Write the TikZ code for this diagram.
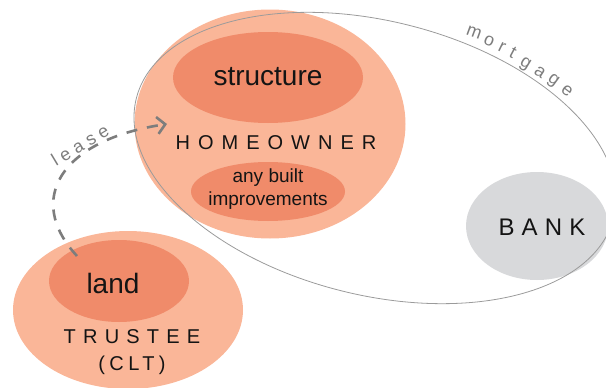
\documentclass[tikz,border=0pt]{standalone}
\usepackage{fontspec}
\setmainfont{Liberation Sans}
\usetikzlibrary{shapes.geometric,arrows.meta}
\definecolor{salmonL}{RGB}{250,182,152}
\definecolor{salmonD}{RGB}{240,139,106}
\definecolor{bankG}{RGB}{216,217,219}
\definecolor{lineG}{RGB}{155,155,155}
\definecolor{leaseG}{RGB}{125,125,125}
\definecolor{txt}{RGB}{20,20,20}
\begin{document}
\begin{tikzpicture}[x=1pt,y=-1pt,
  blob/.style={ellipse, inner sep=0pt, draw=none},
  lbl/.style={inner sep=0pt, text=txt},
  mlet/.style={inner sep=0pt, text=leaseG, font=\fontsize{18}{18}\selectfont},
  spaced/.style={inner sep=0pt, text=txt, font=\fontsize{20}{24}\selectfont\addfontfeature{LetterSpace=40}}
]
\useasboundingbox (0,0) rectangle (606,388);
% filled shapes
\node[blob, fill=salmonL, minimum width=230pt, minimum height=158pt] (trustee) at (128,310) {};
\node[blob, fill=salmonD, minimum width=140pt, minimum height=82pt] (landE) at (119,281) {};
\node[blob, fill=salmonL, minimum width=271pt, minimum height=229pt] (home) at (270,124) {};
\node[blob, fill=salmonD, minimum width=190pt, minimum height=91pt] (structE) at (268,77.5) {};
\node[blob, fill=salmonD, minimum width=154pt, minimum height=59pt] (imprE) at (268,191.5) {};
\node[blob, fill=bankG, minimum width=142pt, minimum height=108pt] (bankE) at (537,226) {};
% mortgage ellipse
\node[ellipse, draw=lineG, line width=0.8pt, inner sep=0pt, minimum width=492pt, minimum height=274pt, rotate=-14] (mort) at (375,158) {};
% lease arrow
\coordinate (leaseS) at (77,256);
\coordinate (leaseE) at (167,124);
\draw[leaseG, line width=2.6pt, dash pattern=on 11pt off 10pt,
  -{Straight Barb[length=8pt,width=17pt]}]
  (leaseS) .. controls (25,200) and (60,140) .. (leaseE);
% texts
\node[lbl, font=\fontsize{28}{30}\selectfont] (structT) at (268,77) {structure};
\node[spaced] (homeT) at (276,143) {HOMEOWNER};
\node[lbl, font=\fontsize{19}{23}\selectfont, align=center] (imprT) at (268,189) {any built\\improvements};
\node[lbl, font=\fontsize{28}{30}\selectfont] (landT) at (113,283) {land};
\node[spaced, font=\fontsize{20}{24}\selectfont\addfontfeature{LetterSpace=36}] (trT) at (132,337) {TRUSTEE};
\node[spaced, font=\fontsize{20}{24}\selectfont\addfontfeature{LetterSpace=22}] (cltT) at (132,365) {(CLT)};
\node[spaced, font=\fontsize{24}{28}\selectfont\addfontfeature{LetterSpace=30}] (bankT) at (542,227) {BANK};
\node[mlet, font=\fontsize{18}{18}\selectfont\addfontfeature{LetterSpace=28}, rotate=31] (leaseT) at (80,145) {lease};
% mortgage letters
\node[mlet, rotate=-20] (m1) at (474,33) {m};
\node[mlet, rotate=-23] (m2) at (489,41) {o};
\node[mlet, rotate=-26] (m3) at (502,47) {r};
\node[mlet, rotate=-28] (m4) at (513,53) {t};
\node[mlet, rotate=-31] (m5) at (525,65) {g};
\node[mlet, rotate=-33] (m6) at (540,72) {a};
\node[mlet, rotate=-36] (m7) at (553,81) {g};
\node[mlet, rotate=-38] (m8) at (567,91) {e};
\end{tikzpicture}
\end{document}
